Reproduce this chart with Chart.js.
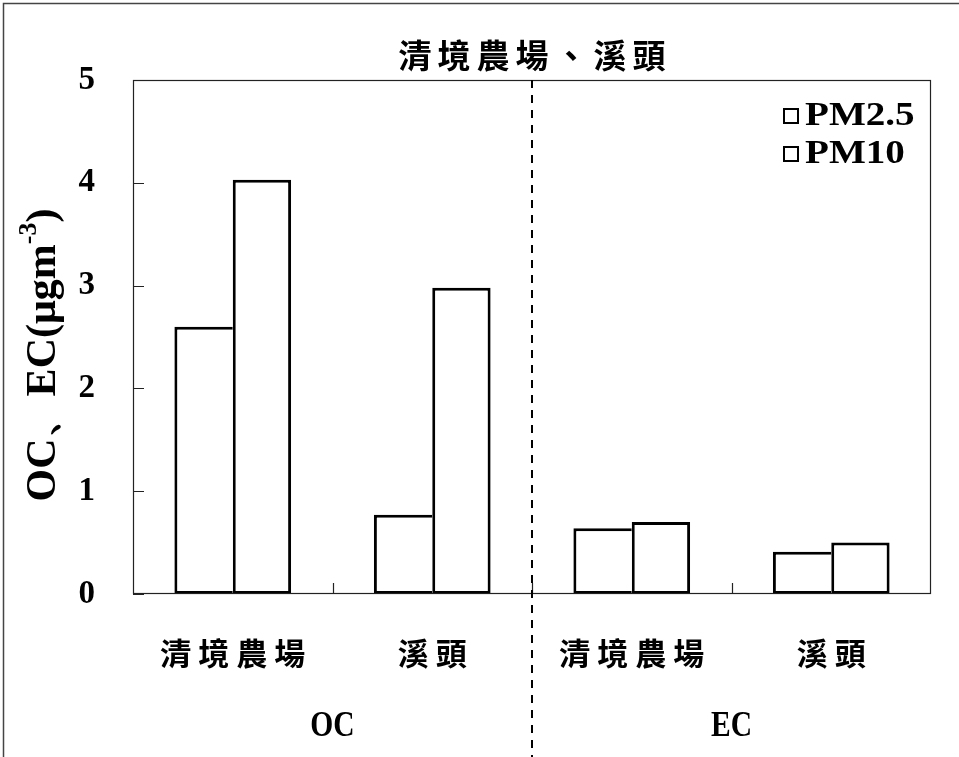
<!DOCTYPE html>
<html>
<head>
<meta charset="utf-8">
<script src="https://cdn.jsdelivr.net/npm/chart.js@4.4.0/dist/chart.umd.min.js"></script>
<style>
  html, body { margin: 0; padding: 0; background: #fff; }
  #wrap { width: 959px; height: 757px; position: relative; }
  canvas { display: block; }
</style>
</head>
<body>
<div id="wrap"><canvas id="c" width="959" height="757"></canvas></div>
<script>
// ---- data ----
const chartTitle = '清境農場、溪頭';
const sites = ['清境農場', '溪頭', '清境農場', '溪頭'];
const groups = ['OC', 'EC'];
const seriesNames = ['PM2.5', 'PM10'];
const pm25 = [2.6, 0.77, 0.64, 0.41];
const pm10 = [4.03, 2.98, 0.70, 0.50];
const yTicks = [0, 1, 2, 3, 4, 5];
const yTitleMain = 'OC、EC(μgm';
const yTitleSup = '-3';
const yTitleEnd = ')';

// ---- fonts ----
const serif = '"Liberation Serif", "Times New Roman", serif';
const cjk = '"Noto Sans CJK TC", "Noto Sans CJK SC", sans-serif';

// draw text one glyph at a time so the characters get extra tracking
function spacedText(ctx, text, cx, cy, spacing) {
  const chars = Array.from(text);
  const widths = chars.map(c => ctx.measureText(c).width);
  const total = widths.reduce((a, b) => a + b, 0) + spacing * (chars.length - 1);
  let x = cx - total / 2;
  ctx.textAlign = 'left';
  chars.forEach((c, i) => { ctx.fillText(c, x, cy); x += widths[i] + spacing; });
}

// horizontally condensed / stretched text
function scaledText(ctx, text, x, y, sx, align) {
  ctx.save();
  ctx.translate(x, y);
  ctx.scale(sx, 1);
  ctx.textAlign = align;
  ctx.fillText(text, 0, 0);
  ctx.restore();
}

const decor = {
  id: 'decor',
  beforeDraw(chart) {
    const ctx = chart.ctx;
    ctx.save();
    ctx.fillStyle = '#fff';
    ctx.fillRect(0, 0, chart.width, chart.height);
    // outer frame
    ctx.strokeStyle = '#444';
    ctx.lineWidth = 1.5;
    ctx.beginPath();
    ctx.moveTo(3.5, chart.height);
    ctx.lineTo(3.5, 3.5);
    ctx.lineTo(chart.width, 3.5);
    ctx.stroke();
    ctx.restore();
  },
  afterDatasetsDraw(chart) {
    const ctx = chart.ctx;
    const a = chart.chartArea;
    const xs = chart.scales.x;
    const xg = chart.scales.x2;
    const ys = chart.scales.y;
    ctx.save();

    // plot frame
    ctx.strokeStyle = '#222';
    ctx.lineWidth = 1.2;
    ctx.strokeRect(a.left + 0.5, a.top + 0.5, a.right - a.left - 1, a.bottom - a.top - 1);

    // inward tick marks
    ctx.beginPath();
    yTicks.forEach(v => {
      const py = Math.round(ys.getPixelForValue(v)) + 0.5;
      ctx.moveTo(a.left, py);
      ctx.lineTo(a.left + 11, py);
    });
    for (let i = 0; i < sites.length - 1; i++) {
      const px = Math.round(xs.getPixelForValue(i + 0.5)) + 0.5;
      ctx.moveTo(px, a.bottom);
      ctx.lineTo(px, a.bottom - 11);
    }
    ctx.stroke();

    // dashed divider between the OC and EC groups
    const mid = xs.getPixelForValue((sites.length - 1) / 2);
    ctx.strokeStyle = '#000';
    ctx.lineWidth = 2;
    ctx.setLineDash([8, 7]);
    ctx.beginPath();
    ctx.moveTo(mid, a.top);
    ctx.lineTo(mid, chart.height);
    ctx.stroke();
    ctx.setLineDash([]);

    // title
    ctx.fillStyle = '#000';
    ctx.textBaseline = 'middle';
    ctx.font = `bold 33px ${cjk}`;
    spacedText(ctx, chartTitle, (a.left + a.right) / 2, a.top - 25, 6);

    // site labels under the bars
    ctx.font = `bold 31px ${cjk}`;
    sites.forEach((s, i) => {
      spacedText(ctx, s, xs.getPixelForValue(i), a.bottom + 59, 7);
    });

    // group labels (OC / EC) centred on the second category axis
    ctx.font = `bold 36px ${serif}`;
    ctx.textBaseline = 'alphabetic';
    groups.forEach((g, i) => {
      scaledText(ctx, g, xg.getPixelForValue(i), xg.top + 42, 0.82, 'center');
    });

    // y axis title with superscript exponent
    ctx.save();
    ctx.translate(55, (a.top + a.bottom) / 2 + 18);
    ctx.rotate(-Math.PI / 2);
    ctx.textBaseline = 'alphabetic';
    ctx.textAlign = 'left';
    const fMain = `bold 42px ${serif}`;
    const fSup = `bold 26px ${serif}`;
    ctx.font = fMain;
    const w1 = ctx.measureText(yTitleMain).width;
    const w3 = ctx.measureText(yTitleEnd).width;
    ctx.font = fSup;
    const w2 = ctx.measureText(yTitleSup).width;
    let x0 = -(w1 + w2 + w3) / 2;
    ctx.font = fMain;
    ctx.fillText(yTitleMain, x0, 0);
    ctx.font = fSup;
    ctx.fillText(yTitleSup, x0 + w1, -19);
    ctx.font = fMain;
    ctx.fillText(yTitleEnd, x0 + w1 + w2, 0);
    ctx.restore();

    // legend
    chart.data.datasets.forEach((ds, i) => {
      const bx = a.right - 148;
      const by = a.top + 28 + i * 38;
      ctx.fillStyle = ds.backgroundColor;
      ctx.fillRect(bx, by, 16, 16);
      ctx.strokeStyle = ds.borderColor;
      ctx.lineWidth = 2;
      ctx.strokeRect(bx + 1, by + 1, 14, 14);
      ctx.fillStyle = '#000';
      ctx.font = `bold 34px ${serif}`;
      ctx.textBaseline = 'alphabetic';
      scaledText(ctx, ds.label, bx + 22, by + 17, 1.15, 'left');
    });

    ctx.restore();
  }
};

new Chart(document.getElementById('c'), {
  type: 'bar',
  data: {
    labels: sites,
    datasets: [
      {
        label: seriesNames[0],
        data: pm25,
        backgroundColor: '#ffffff',
        borderColor: '#000000',
        borderWidth: { top: 3, left: 3, bottom: 3, right: 0 },
        borderSkipped: false
      },
      {
        label: seriesNames[1],
        data: pm10,
        backgroundColor: '#ffffff',
        borderColor: '#000000',
        borderWidth: { top: 3, left: 3, bottom: 3, right: 3 },
        borderSkipped: false
      }
    ]
  },
  options: {
    responsive: false,
    animation: false,
    devicePixelRatio: 1,
    layout: { padding: { top: 80, right: 28, left: 0, bottom: 0 } },
    datasets: { bar: { categoryPercentage: 0.585, barPercentage: 1.0 } },
    plugins: {
      legend: { display: false },
      title: { display: false },
      tooltip: { enabled: false }
    },
    scales: {
      x: {
        type: 'category',
        position: 'bottom',
        offset: true,
        grid: { display: false, drawTicks: false },
        border: { display: false },
        ticks: { display: false },
        afterFit: s => { s.height = 100; }
      },
      x2: {
        type: 'category',
        position: 'bottom',
        labels: groups,
        offset: true,
        grid: { display: false, drawTicks: false },
        border: { display: false },
        ticks: { display: false },
        afterFit: s => { s.height = 63; }
      },
      y: {
        min: 0,
        max: 5,
        grid: { display: false, drawTicks: false },
        border: { display: false },
        ticks: {
          color: '#000',
          font: { family: serif, size: 33, weight: 'bold' },
          padding: 38
        },
        afterBuildTicks: s => { s.ticks = yTicks.map(v => ({ value: v })); },
        afterFit: s => { s.width = 133; }
      }
    }
  },
  plugins: [decor]
});
</script>
</body>
</html>
